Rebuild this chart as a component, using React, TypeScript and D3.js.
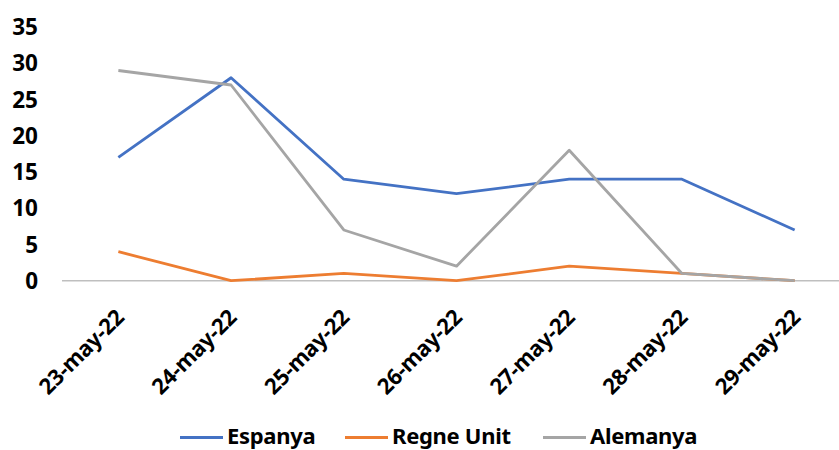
import { useEffect, useRef } from "react";
import * as d3 from "d3";

const dates = ["23-may-22", "24-may-22", "25-may-22", "26-may-22", "27-may-22", "28-may-22", "29-may-22"];
const espanya = [17, 28, 14, 12, 14, 14, 7];
const regneUnit = [4, 0, 1, 0, 2, 1, 0];
const alemanya = [29, 27, 7, 2, 18, 1, 0];
const yTicks = [0, 5, 10, 15, 20, 25, 30, 35];

const series = [
  { name: "Espanya", values: espanya, color: "#4472C4" },
  { name: "Regne Unit", values: regneUnit, color: "#ED7D31" },
  { name: "Alemanya", values: alemanya, color: "#A5A5A5" },
];

const width = 839;
const height = 450;
const font = "'Noto Sans', sans-serif";

export default function App() {
  const svgRef = useRef<SVGSVGElement | null>(null);

  useEffect(() => {
    const svg = d3.select(svgRef.current);
    svg.selectAll("*").remove();

    const x = d3.scaleBand().domain(dates).range([62, 851]);
    const y = d3.scaleLinear().domain([0, 35]).range([280.7, 27]);
    const cx = (d: string) => x(d)! + x.bandwidth() / 2;

    // y tick labels
    svg
      .append("g")
      .selectAll("text")
      .data(yTicks)
      .join("text")
      .attr("x", 38)
      .attr("y", (d) => y(d))
      .attr("dy", "0.36em")
      .attr("text-anchor", "end")
      .attr("font-family", font)
      .attr("font-weight", 700)
      .attr("font-size", 22.5)
      .text((d) => d);

    // x axis line
    svg
      .append("line")
      .attr("x1", x.range()[0])
      .attr("x2", x.range()[1])
      .attr("y1", y(0))
      .attr("y2", y(0))
      .attr("stroke", "#BFBFBF")
      .attr("stroke-width", 1.5);

    // x labels
    svg
      .append("g")
      .selectAll("text")
      .data(dates)
      .join("text")
      .attr("transform", (d) => `translate(${cx(d) + 7},${y(0) + 38}) rotate(-45)`)
      .attr("text-anchor", "end")
      .attr("font-family", font)
      .attr("font-weight", 700)
      .attr("font-size", 22)
      .attr("letter-spacing", -0.3)
      .text((d) => d);

    const line = d3
      .line<number>()
      .x((_, i) => cx(dates[i]))
      .y((d) => y(d));

    svg
      .append("g")
      .selectAll("path")
      .data(series)
      .join("path")
      .attr("d", (s) => line(s.values))
      .attr("fill", "none")
      .attr("stroke", (s) => s.color)
      .attr("stroke-width", 2.8)
      .attr("stroke-linejoin", "round");

    // legend
    const legendX = [180, 345, 543];
    const lg = svg
      .append("g")
      .selectAll("g")
      .data(series)
      .join("g")
      .attr("transform", (_, i) => `translate(${legendX[i]},437.5)`);
    lg.append("line")
      .attr("x1", 0)
      .attr("x2", 43)
      .attr("stroke", (s) => s.color)
      .attr("stroke-width", 2.8);
    lg.append("text")
      .attr("x", 47)
      .attr("y", 6.5)
      .attr("font-family", font)
      .attr("font-weight", 700)
      .attr("font-size", 22)
      .attr("letter-spacing", -0.3)
      .text((s) => s.name);
  }, []);

  return (
    <svg
      ref={svgRef}
      width={width}
      height={height}
      style={{ position: "absolute", left: 0, top: 0, background: "#fff" }}
    />
  );
}
